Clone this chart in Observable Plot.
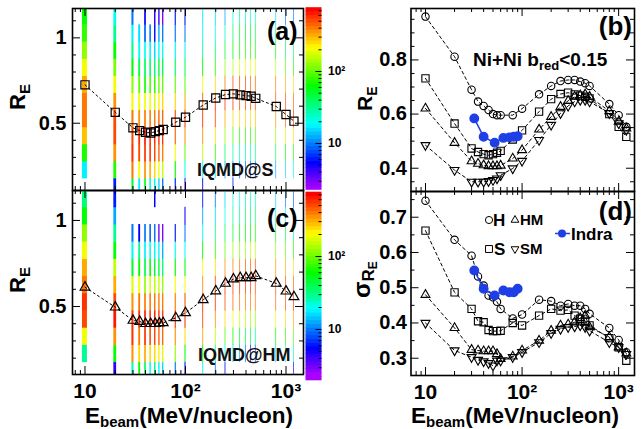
<!DOCTYPE html>
<html><head><meta charset="utf-8">
<script src="https://cdn.jsdelivr.net/npm/d3@7"></script>
<script src="https://cdn.jsdelivr.net/npm/@observablehq/plot@0.6"></script>
<style>
body{margin:0;background:#fff;}
#chart{position:relative;width:641px;height:429px;overflow:hidden;background:#fff;}
#chart svg{position:absolute;left:0;top:0;}
</style></head><body><div id="chart"></div>
<script>
// ---------------- data ----------------
const energies = [10,20,30,35,40,45,50,55,60,80,100,150,200,250,300,350,400,450,500,800,1000,1200];
const binLow = [0.075,0.175,0.275,0.375,0.475,0.575,0.675,0.775,0.875,0.975,1.075];
const binWidth = 0.1;
// counts per energy, bins from low R_E to high R_E  (IQMD@S, panel a)
const countsS = [
  [0,18,70,280,380,380,300,210,130,75,60],
  [6,70,350,500,480,350,200,110,60,30,20],
  [50,380,600,520,380,200,120,60,30,18,10],
  [18,200,480,600,350,190,100,45,20,15,0],
  [50,350,600,620,380,190,70,40,20,8,5],
  [25,300,550,600,420,200,90,40,18,10,0],
  [20,250,500,600,400,180,80,35,15,6,4],
  [15,200,450,550,450,220,100,50,20,12,4],
  [10,150,400,550,450,250,100,45,20,10,3],
  [6,60,200,450,500,250,100,40,18,10,6],
  [4,20,100,350,550,300,100,40,18,10,5],
  [5,20,150,350,550,450,200,60,30,20,18],
  [0,18,80,250,500,550,250,80,35,20,15],
  [0,12,40,120,300,600,400,120,50,25,12],
  [5,10,30,90,250,550,500,150,60,40,20],
  [0,8,25,80,250,500,500,180,70,50,30],
  [0,8,25,80,250,480,480,200,80,50,25],
  [0,8,25,80,260,480,470,200,80,50,25],
  [0,8,30,90,280,500,450,180,70,45,25],
  [0,12,40,120,350,500,400,150,60,30,15],
  [0,15,60,180,450,500,300,100,40,20,10],
  [0,20,80,250,550,450,250,80,30,15,10]
];
// counts per energy (IQMD@HM, panel c)
const countsHM = [
  [0,30,200,480,550,400,320,200,120,60,35],
  [4,60,350,620,500,300,150,60,30,12,6],
  [25,350,550,600,350,180,50,20,10,0,0],
  [60,250,400,600,400,200,60,30,5,0,0],
  [40,300,550,620,380,130,45,18,10,0,0],
  [20,250,500,600,400,170,60,20,8,0,0],
  [30,250,500,650,400,150,50,20,10,0,5],
  [18,220,450,600,420,160,50,18,3,0,0],
  [15,180,450,600,400,120,35,12,3,0,0],
  [10,120,350,550,400,200,60,20,6,0,0],
  [5,60,250,550,500,200,60,20,10,5,0],
  [20,60,300,500,600,350,200,60,20,12,6],
  [10,30,150,350,600,500,250,80,30,15,10],
  [5,20,90,250,500,550,350,100,40,20,15],
  [0,15,60,200,450,550,400,120,50,30,20],
  [0,12,50,180,420,550,420,130,60,30,20],
  [0,10,45,150,400,550,450,140,60,35,25],
  [0,4,40,140,400,540,460,150,65,38,25],
  [0,8,30,130,380,520,480,160,70,40,25],
  [0,15,60,200,450,520,350,120,50,25,15],
  [0,20,80,250,480,500,300,100,40,20,10],
  [5,25,100,300,550,450,250,80,30,15,8]
];
const meanS = [0.725,0.564,0.473,0.457,0.447,0.443,0.451,0.457,0.463,0.506,0.535,0.607,0.648,0.668,0.672,0.666,0.662,0.658,0.646,0.598,0.551,0.512];
const meanHM = [0.612,0.496,0.419,0.413,0.400,0.400,0.400,0.403,0.405,0.434,0.463,0.539,0.590,0.634,0.659,0.667,0.667,0.667,0.678,0.634,0.589,0.556];
// panel b: R_E
const reH  = [0.960,0.812,0.690,0.646,0.630,0.615,0.600,0.596,0.596,0.596,0.620,0.673,0.704,0.722,0.726,0.726,0.720,0.714,0.704,0.637,0.596,0.553];
const reS  = [0.732,0.565,0.473,0.460,0.452,0.448,0.452,0.457,0.464,0.506,0.540,0.609,0.655,0.674,0.679,0.673,0.668,0.664,0.658,0.600,0.553,0.516];
const reHM = [0.621,0.494,0.426,0.417,0.411,0.408,0.408,0.408,0.410,0.436,0.467,0.543,0.590,0.627,0.649,0.664,0.670,0.673,0.664,0.611,0.572,0.547];
const reSM = [0.485,0.393,0.350,0.350,0.350,0.352,0.356,0.362,0.374,0.399,0.427,0.504,0.560,0.603,0.630,0.646,0.652,0.652,0.646,0.603,0.566,0.541];
// panel d: sigma of R_E
const sgH  = [0.747,0.636,0.591,0.532,0.506,0.478,0.473,0.460,0.440,0.413,0.424,0.466,0.462,0.449,0.454,0.449,0.449,0.440,0.426,0.386,0.352,0.317];
const sgS  = [0.662,0.487,0.440,0.405,0.402,0.380,0.377,0.377,0.378,0.400,0.393,0.421,0.440,0.435,0.437,0.421,0.412,0.404,0.393,0.357,0.331,0.293];
const sgHM = [0.480,0.386,0.324,0.322,0.320,0.320,0.320,0.312,0.298,0.305,0.322,0.350,0.378,0.393,0.396,0.402,0.414,0.421,0.388,0.360,0.331,0.314];
const sgSM = [0.400,0.322,0.303,0.295,0.291,0.286,0.279,0.293,0.293,0.303,0.317,0.345,0.371,0.383,0.388,0.390,0.393,0.388,0.378,0.345,0.331,0.312];
const indraE = [32,40,52,64,74,82,90];
const indraRE = [0.584,0.516,0.494,0.512,0.514,0.516,0.518];
const indraSg = [0.549,0.497,0.478,0.492,0.487,0.487,0.497];
// ticks
const xMajor = [10,100,1000];
const xLabels = ["10","10²","10³"];
const xMinor = [8,9,20,30,40,50,60,70,80,90,200,300,400,500,600,700,800,900];
const yMajorAC = [0.5,1], yLabelsAC = ["0.5","1"];
const yMinorAC = [0.2,0.3,0.4,0.6,0.7,0.8,0.9,1.1];
const yMajorB = [0.4,0.6,0.8], yLabelsB = ["0.4","0.6","0.8"];
const yMinorB = [0.35,0.45,0.5,0.55,0.65,0.7,0.75,0.85,0.9,0.95];
const yMajorD = [0.3,0.4,0.5,0.6,0.7], yLabelsD = ["0.3","0.4","0.5","0.6","0.7"];
const yMinorD = [0.35,0.45,0.55,0.65,0.75];
const zMajor = [10,100], zLabels = ["10","10²"];
const zMinor = [3,4,5,6,7,8,9,20,30,40,50,60,70,80,90,200,300,400,500,600,700];

// ---------------- helpers ----------------
const W = 641, H = 429;
const FONT = "'Liberation Sans', Arial, sans-serif";
const palette = t => { const k = Math.max(0, Math.min(49, Math.floor(t * 50))); return d3.hsl(280 * (1 - k / 49), 1, 0.5).formatHex(); };
const colorOpts = {type: "log", domain: [2.2, 760], interpolate: palette, clamp: true};
const style = {background: "none", overflow: "visible", fontFamily: FONT};

const triDown = {draw(ctx, size) { const y = Math.sqrt(size / (Math.sqrt(3) * 3)); ctx.moveTo(0, 2 * y); ctx.lineTo(Math.sqrt(3) * y, -y); ctx.lineTo(-Math.sqrt(3) * y, -y); ctx.closePath(); }};

function cells(counts) {
  const out = [];
  energies.forEach((e, i) => counts[i].forEach((c, j) => { if (c > 0) out.push({e, y1: binLow[j], y2: binLow[j] + binWidth, c}); }));
  return out;
}
function series(xs, ys) { return xs.map((e, i) => ({e, v: ys[i]})); }

function panel(g) {
  const iw = g.right - g.left, ih = g.bottom - g.top;
  const inX = v => v >= g.xDomain[0] && v <= g.xDomain[1];
  const xmaj = xMajor.filter(inX), xmin = xMinor.filter(inX);
  const tk = {stroke: "black", strokeWidth: 1};
  const marks = [
    ...g.marks,
    Plot.ruleY(g.yMajor, {...tk, insetRight: iw - 8}),
    Plot.ruleY(g.yMajor, {...tk, insetLeft: iw - 8}),
    Plot.ruleY(g.yMinor, {...tk, insetRight: iw - 4}),
    Plot.ruleY(g.yMinor, {...tk, insetLeft: iw - 4}),
    Plot.ruleX(xmaj, {...tk, insetTop: ih - 8}),
    Plot.ruleX(xmaj, {...tk, insetBottom: ih - 8}),
    Plot.ruleX(xmin, {...tk, insetTop: ih - 4}),
    Plot.ruleX(xmin, {...tk, insetBottom: ih - 4}),
    Plot.frame({stroke: "black", strokeWidth: 1.6}),
    Plot.text(g.yMajor, {y: d => d, frameAnchor: "left", dx: g.ydx, textAnchor: "end", text: (d, i) => g.yLabels[i], fontSize: 20, fontWeight: "bold", fill: "black"})
  ];
  if (g.xlab) marks.push(Plot.text(xMajor, {x: d => d, frameAnchor: "bottom", dy: g.xdy, text: (d, i) => xLabels[i], fontSize: 21, fontWeight: "bold", fill: "black"}));
  return Plot.plot({
    width: W, height: H,
    marginLeft: g.left, marginRight: W - g.right, marginTop: g.top, marginBottom: H - g.bottom,
    x: {type: "log", domain: g.xDomain, axis: null},
    y: {domain: g.yDomain, axis: null},
    color: colorOpts,
    style,
    marks
  });
}

function colorBar(g) {
  const lo = Math.log10(g.domain[0]), hi = Math.log10(g.domain[1]), n = 50;
  const bands = d3.range(n).map(i => ({y1: 10 ** (lo + (hi - lo) * i / n), y2: 10 ** (lo + (hi - lo) * (i + 1) / n), v: 10 ** (lo + (hi - lo) * (i + 0.5) / n)}));
  const iw = g.right - g.left;
  return Plot.plot({
    width: W, height: H,
    marginLeft: g.left, marginRight: W - g.right, marginTop: g.top, marginBottom: H - g.bottom,
    x: {domain: [0, 1], axis: null},
    y: {type: "log", domain: g.domain, axis: null},
    color: colorOpts,
    style,
    marks: [
      Plot.rect(bands, {x1: () => 0, x2: () => 1, y1: "y1", y2: "y2", fill: "v", insetTop: -0.3, insetBottom: -0.3}),
      Plot.ruleY(zMajor, {stroke: "black", strokeWidth: 1, insetLeft: iw - 6}),
      Plot.ruleY(zMinor.filter(v => v > g.domain[0] && v < g.domain[1]), {stroke: "black", strokeWidth: 1, insetLeft: iw - 3}),
      Plot.text(zMajor, {y: d => d, frameAnchor: "right", dx: 6, textAnchor: "start", text: (d, i) => zLabels[i], fontSize: 12, fontWeight: "bold", fill: "black"})
    ]
  });
}

const dash = {stroke: "black", strokeWidth: 1, strokeDasharray: "3,3"};
const open = {stroke: "black", strokeWidth: 1.1, fill: "none"};

const xAC = [7.51, 1493], xBD = [7.08, 1459];
const heat = counts => Plot.rect(cells(counts), {x1: d => d.e - 0.5, x2: d => d.e + 0.5, y1: "y1", y2: "y2", fill: "c", insetLeft: -0.3, insetRight: -0.3, insetTop: -0.2, insetBottom: -0.2, clip: true});

const pA = panel({left: 72, right: 303, top: 8, bottom: 190, xDomain: xAC, yDomain: [0.106, 1.172],
  yMajor: yMajorAC, yMinor: yMinorAC, yLabels: yLabelsAC, ydx: -6, xlab: false,
  marks: [heat(countsS),
    Plot.line(series(energies, meanS), {x: "e", y: "v", ...dash, strokeDasharray: "2,3"}),
    Plot.dot(series(energies, meanS), {x: "e", y: "v", symbol: "square", r: 4.6, ...open, strokeWidth: 1.2})]});
const pC = panel({left: 72, right: 303, top: 190, bottom: 374, xDomain: xAC, yDomain: [0.105, 1.174],
  yMajor: yMajorAC, yMinor: yMinorAC, yLabels: yLabelsAC, ydx: -6, xlab: true, xdy: 23.5,
  marks: [heat(countsHM),
    Plot.line(series(energies, meanHM), {x: "e", y: "v", ...dash, strokeDasharray: "2,3"}),
    Plot.dot(series(energies, meanHM), {x: "e", y: "v", symbol: "triangle", r: 3.6, ...open, strokeWidth: 1.2})]});

function modelMarks(h, s, hm, sm, indra) {
  return [
    Plot.line(series(energies, h), {x: "e", y: "v", ...dash}),
    Plot.line(series(energies, s), {x: "e", y: "v", ...dash}),
    Plot.line(series(energies, hm), {x: "e", y: "v", ...dash}),
    Plot.line(series(energies, sm), {x: "e", y: "v", ...dash}),
    Plot.dot(series(energies, h), {x: "e", y: "v", symbol: "circle", r: 3.7, ...open}),
    Plot.dot(series(energies, s), {x: "e", y: "v", symbol: "square", r: 4.1, ...open}),
    Plot.dot(series(energies, hm), {x: "e", y: "v", symbol: "triangle", r: 3.3, ...open}),
    Plot.dot(series(energies, sm), {x: "e", y: "v", symbol: triDown, r: 3.3, ...open}),
    Plot.line(series(indraE, indra), {x: "e", y: "v", stroke: "#1f3fe6", strokeWidth: 1.5}),
    Plot.dot(series(indraE, indra), {x: "e", y: "v", r: 4.2, fill: "#1f3fe6", stroke: "#1f3fe6"})
  ];
}
const pB = panel({left: 410.5, right: 634, top: 8, bottom: 191, xDomain: xBD, yDomain: [0.314, 0.99],
  yMajor: yMajorB, yMinor: yMinorB, yLabels: yLabelsB, ydx: -4, xlab: false,
  marks: modelMarks(reH, reS, reHM, reSM, indraRE)});
const pD = panel({left: 410.5, right: 634, top: 191, bottom: 375, xDomain: xBD, yDomain: [0.251, 0.773],
  yMajor: yMajorD, yMinor: yMinorD, yLabels: yLabelsD, ydx: -4, xlab: true, xdy: 23,
  marks: modelMarks(sgH, sgS, sgHM, sgSM, indraSg)});

const cbA = colorBar({left: 305.5, right: 321.5, top: 7.5, bottom: 189.5, domain: [2.26, 762]});
const cbC = colorBar({left: 305.5, right: 321.5, top: 192, bottom: 380, domain: [2.0, 753]});

const root = document.getElementById("chart");
[pA, pC, pB, pD, cbA, cbC].forEach(p => root.appendChild(p));

// ---------------- titles / annotations (text with sub-scripts) ----------------
const ov = d3.select(root).append("svg").attr("width", W).attr("height", H)
  .style("font-family", FONT).style("font-weight", "bold").style("overflow", "visible");
function rich(x, y, parts, {rotate = 0, anchor = "start", fill = "black"} = {}) {
  const t = ov.append("text").attr("transform", `translate(${x},${y}) rotate(${rotate})`)
    .attr("text-anchor", anchor).attr("fill", fill);
  parts.forEach(p => t.append("tspan").attr("font-size", p.size).attr("dy", p.dy || 0).text(p.t));
  return t;
}
// x titles
const ebeam = [{t: "E", size: 22.5}, {t: "beam", size: 15, dy: 4}, {t: "(MeV/nucleon)", size: 22.5, dy: -4}];
rich(85, 423, ebeam);
rich(411, 423, ebeam);
// y titles
const rE = s => [{t: "R", size: s}, {t: "E", size: Math.round(s * 0.68), dy: 5}];
rich(25, 110, rE(22), {rotate: -90});
rich(25, 293, rE(22), {rotate: -90});
rich(372, 111, rE(21), {rotate: -90});
rich(370, 298, [{t: "σ", size: 24}, {t: "R", size: 17, dy: 4}, {t: "E", size: 12, dy: 3}], {rotate: -90});
// panel labels
rich(297.5, 40, [{t: "(a)", size: 25}], {anchor: "end"});
rich(297.5, 227, [{t: "(c)", size: 25}], {anchor: "end"});
rich(632, 35, [{t: "(b)", size: 26}], {anchor: "end"});
rich(632, 220, [{t: "(d)", size: 26}], {anchor: "end"});
rich(197, 176, [{t: "IQMD@S", size: 18}], {fill: "#111"});
rich(198, 361, [{t: "IQMD@HM", size: 18}], {fill: "#111"});
rich(473, 66, [{t: "Ni+Ni b", size: 19}, {t: "red", size: 13, dy: 4}, {t: "<0.15", size: 19, dy: -4}]);
// legend (panel d)
const sym = (type, size) => d3.symbol().type(type).size(size)();
ov.append("path").attr("d", sym(d3.symbolCircle, 40)).attr("transform", "translate(489,220)").attr("fill", "none").attr("stroke", "black");
rich(493, 226, [{t: "H", size: 17}]);
ov.append("path").attr("d", sym(d3.symbolTriangle, 26)).attr("transform", "translate(515,220)").attr("fill", "none").attr("stroke", "black");
rich(520, 225, [{t: "HM", size: 15}]);
ov.append("path").attr("d", sym(d3.symbolSquare, 48)).attr("transform", "translate(489,249)").attr("fill", "none").attr("stroke", "black");
rich(494, 255, [{t: "S", size: 17}]);
ov.append("path").attr("d", sym(triDown, 26)).attr("transform", "translate(515,249)").attr("fill", "none").attr("stroke", "black");
rich(520, 254, [{t: "SM", size: 15}]);
ov.append("line").attr("x1", 555).attr("x2", 570).attr("y1", 233.5).attr("y2", 233.5).attr("stroke", "#1f3fe6").attr("stroke-width", 1.5);
ov.append("circle").attr("cx", 562).attr("cy", 233.5).attr("r", 4).attr("fill", "#1f3fe6");
rich(571, 240, [{t: "Indra", size: 17}]);
</script>
</body></html>
